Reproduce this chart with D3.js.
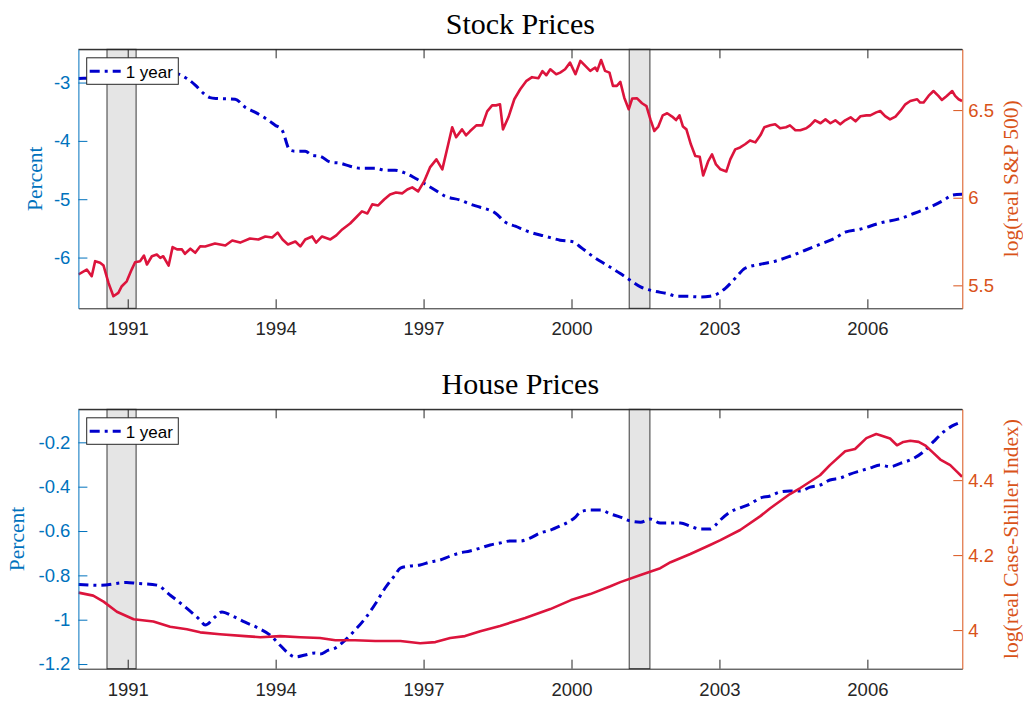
<!DOCTYPE html>
<html>
<head>
<meta charset="utf-8">
<script src="https://cdn.jsdelivr.net/npm/d3@7"></script>
<style>
  html, body { margin: 0; padding: 0; background: #fff; }
  svg { display: block; }
</style>
</head>
<body>
<svg id="chart" width="1023" height="703"></svg>
<script>
// ---------------- DATA ----------------
const xTickYears = [1991, 1994, 1997, 2000, 2003, 2006];
const xTickLabels = ["1991", "1994", "1997", "2000", "2003", "2006"];
const recessions = [[1990.58, 1991.17], [2001.17, 2001.59]];

// Stock panel
const stockLeftTicks = [-6, -5, -4, -3];
const stockLeftTickLabels = ["-6", "-5", "-4", "-3"];
const stockRightTicks = [5.5, 6, 6.5];
const stockRightTickLabels = ["5.5", "6", "6.5"];

const stockYearDates = [1990.00, 1990.50, 1991.00, 1991.50, 1991.96, 1992.20, 1992.37, 1992.54, 1992.67, 1992.81, 1993.18, 1993.38, 1993.58, 1993.79, 1993.99, 1994.13, 1994.29, 1994.40, 1994.60, 1994.74, 1994.90, 1995.11, 1995.31, 1995.51, 1995.71, 1996.02, 1996.22, 1996.42, 1996.63, 1996.83, 1997.04, 1997.24, 1997.44, 1997.75, 1997.95, 1998.15, 1998.46, 1998.66, 1998.86, 1999.16, 1999.47, 1999.77, 2000.04, 2000.18, 2000.45, 2000.72, 2000.99, 2001.19, 2001.40, 2001.66, 2001.94, 2002.14, 2002.34, 2002.61, 2002.81, 2002.98, 2003.12, 2003.32, 2003.52, 2003.83, 2004.13, 2004.43, 2004.74, 2005.04, 2005.34, 2005.55, 2005.85, 2006.26, 2006.67, 2006.94, 2007.28, 2007.55, 2007.72, 2007.92];
const stockYearValues = [-2.930, -2.920, -2.900, -2.870, -2.844, -2.930, -3.045, -3.187, -3.259, -3.273, -3.285, -3.422, -3.508, -3.611, -3.731, -3.816, -4.159, -4.177, -4.177, -4.245, -4.262, -4.365, -4.383, -4.434, -4.468, -4.468, -4.503, -4.503, -4.554, -4.640, -4.743, -4.846, -4.949, -5.017, -5.086, -5.137, -5.240, -5.395, -5.463, -5.566, -5.635, -5.703, -5.732, -5.818, -5.990, -6.132, -6.274, -6.389, -6.504, -6.573, -6.618, -6.664, -6.664, -6.676, -6.664, -6.612, -6.527, -6.355, -6.184, -6.115, -6.063, -5.978, -5.875, -5.772, -5.669, -5.566, -5.515, -5.407, -5.331, -5.245, -5.132, -5.017, -4.931, -4.914];

const spxDates = [1990.00, 1990.17, 1990.27, 1990.34, 1990.44, 1990.51, 1990.61, 1990.71, 1990.81, 1990.88, 1990.98, 1991.08, 1991.15, 1991.25, 1991.33, 1991.39, 1991.49, 1991.59, 1991.66, 1991.72, 1991.83, 1991.91, 1992.00, 1992.10, 1992.16, 1992.27, 1992.37, 1992.47, 1992.57, 1992.77, 1992.98, 1993.12, 1993.28, 1993.48, 1993.65, 1993.79, 1993.93, 1994.04, 1994.14, 1994.25, 1994.40, 1994.50, 1994.60, 1994.74, 1994.82, 1994.94, 1995.11, 1995.23, 1995.35, 1995.51, 1995.63, 1995.75, 1995.86, 1995.96, 1996.08, 1996.20, 1996.32, 1996.44, 1996.57, 1996.67, 1996.77, 1996.89, 1997.01, 1997.13, 1997.26, 1997.38, 1997.50, 1997.58, 1997.66, 1997.78, 1997.86, 1997.94, 1998.07, 1998.19, 1998.29, 1998.39, 1998.47, 1998.55, 1998.61, 1998.72, 1998.84, 1998.96, 1999.08, 1999.20, 1999.33, 1999.41, 1999.49, 1999.57, 1999.69, 1999.77, 1999.87, 1999.97, 2000.08, 2000.18, 2000.28, 2000.38, 2000.48, 2000.52, 2000.60, 2000.68, 2000.77, 2000.84, 2000.92, 2000.99, 2001.07, 2001.16, 2001.23, 2001.33, 2001.43, 2001.52, 2001.60, 2001.68, 2001.76, 2001.85, 2001.94, 2002.04, 2002.12, 2002.19, 2002.26, 2002.33, 2002.42, 2002.51, 2002.60, 2002.67, 2002.77, 2002.85, 2002.93, 2003.02, 2003.14, 2003.22, 2003.32, 2003.42, 2003.52, 2003.62, 2003.73, 2003.83, 2003.91, 2004.03, 2004.13, 2004.23, 2004.35, 2004.43, 2004.54, 2004.64, 2004.76, 2004.84, 2004.94, 2005.05, 2005.15, 2005.25, 2005.35, 2005.45, 2005.55, 2005.66, 2005.76, 2005.86, 2005.98, 2006.06, 2006.18, 2006.26, 2006.36, 2006.46, 2006.57, 2006.67, 2006.77, 2006.87, 2007.01, 2007.07, 2007.14, 2007.24, 2007.34, 2007.44, 2007.51, 2007.61, 2007.72, 2007.78, 2007.85, 2007.92];
const spxValues = [5.562, 5.590, 5.552, 5.638, 5.629, 5.613, 5.514, 5.438, 5.457, 5.495, 5.523, 5.590, 5.632, 5.638, 5.670, 5.619, 5.666, 5.676, 5.657, 5.666, 5.613, 5.718, 5.705, 5.705, 5.680, 5.709, 5.686, 5.723, 5.722, 5.739, 5.727, 5.756, 5.744, 5.767, 5.762, 5.779, 5.773, 5.801, 5.762, 5.733, 5.750, 5.722, 5.762, 5.779, 5.744, 5.779, 5.762, 5.785, 5.819, 5.853, 5.887, 5.922, 5.910, 5.962, 5.956, 5.990, 6.019, 6.030, 6.025, 6.047, 6.059, 6.036, 6.093, 6.173, 6.219, 6.162, 6.305, 6.402, 6.345, 6.390, 6.356, 6.379, 6.413, 6.413, 6.493, 6.527, 6.527, 6.533, 6.390, 6.459, 6.562, 6.619, 6.665, 6.688, 6.682, 6.722, 6.699, 6.733, 6.705, 6.714, 6.733, 6.771, 6.705, 6.781, 6.752, 6.724, 6.743, 6.724, 6.786, 6.724, 6.714, 6.638, 6.638, 6.661, 6.571, 6.505, 6.566, 6.567, 6.539, 6.523, 6.447, 6.381, 6.406, 6.470, 6.482, 6.463, 6.443, 6.470, 6.406, 6.390, 6.305, 6.238, 6.234, 6.127, 6.207, 6.247, 6.190, 6.162, 6.150, 6.219, 6.276, 6.287, 6.305, 6.327, 6.316, 6.356, 6.402, 6.413, 6.419, 6.396, 6.402, 6.413, 6.385, 6.385, 6.396, 6.413, 6.442, 6.425, 6.447, 6.425, 6.442, 6.419, 6.442, 6.459, 6.436, 6.465, 6.470, 6.470, 6.487, 6.495, 6.466, 6.447, 6.463, 6.495, 6.533, 6.552, 6.562, 6.543, 6.543, 6.581, 6.609, 6.581, 6.558, 6.581, 6.609, 6.581, 6.562, 6.552];

// House panel
const houseLeftTicks = [-1.2, -1, -0.8, -0.6, -0.4, -0.2];
const houseLeftTickLabels = ["-1.2", "-1", "-0.8", "-0.6", "-0.4", "-0.2"];
const houseRightTicks = [4, 4.2, 4.4];
const houseRightTickLabels = ["4", "4.2", "4.4"];

const houseYearDates = [1990.00, 1990.44, 1990.98, 1991.18, 1991.59, 1991.86, 1992.20, 1992.47, 1992.57, 1992.77, 1992.91, 1993.12, 1993.38, 1993.65, 1993.89, 1994.09, 1994.25, 1994.40, 1994.60, 1994.80, 1994.90, 1995.07, 1995.21, 1995.41, 1995.61, 1995.82, 1996.02, 1996.22, 1996.42, 1996.53, 1996.73, 1996.93, 1997.13, 1997.33, 1997.54, 1997.74, 1997.94, 1998.15, 1998.35, 1998.55, 1998.75, 1998.96, 1999.16, 1999.36, 1999.57, 1999.77, 1999.97, 2000.08, 2000.18, 2000.38, 2000.59, 2000.79, 2000.99, 2001.19, 2001.40, 2001.60, 2001.80, 2002.01, 2002.21, 2002.41, 2002.61, 2002.81, 2002.92, 2003.02, 2003.22, 2003.42, 2003.62, 2003.83, 2004.03, 2004.23, 2004.43, 2004.64, 2004.84, 2005.04, 2005.24, 2005.45, 2005.65, 2005.85, 2006.05, 2006.26, 2006.46, 2006.67, 2006.94, 2007.14, 2007.34, 2007.55, 2007.72, 2007.92];
const houseYearValues = [-0.841, -0.845, -0.832, -0.836, -0.844, -0.889, -0.949, -1.002, -1.024, -0.988, -0.965, -0.983, -1.011, -1.038, -1.070, -1.115, -1.150, -1.168, -1.159, -1.150, -1.155, -1.137, -1.128, -1.092, -1.047, -0.993, -0.929, -0.857, -0.799, -0.767, -0.758, -0.753, -0.740, -0.731, -0.713, -0.699, -0.690, -0.677, -0.663, -0.654, -0.645, -0.645, -0.632, -0.609, -0.596, -0.577, -0.555, -0.537, -0.514, -0.505, -0.505, -0.523, -0.537, -0.555, -0.560, -0.546, -0.564, -0.564, -0.564, -0.578, -0.591, -0.591, -0.573, -0.550, -0.514, -0.496, -0.478, -0.451, -0.442, -0.424, -0.420, -0.420, -0.402, -0.393, -0.370, -0.361, -0.343, -0.329, -0.316, -0.302, -0.310, -0.295, -0.272, -0.242, -0.197, -0.152, -0.126, -0.107];

const caseShillerDates = [1990.00, 1990.30, 1990.51, 1990.78, 1991.12, 1991.52, 1991.86, 1992.20, 1992.47, 1992.87, 1993.38, 1993.69, 1994.09, 1994.50, 1994.90, 1995.21, 1995.61, 1996.02, 1996.53, 1996.93, 1997.24, 1997.54, 1997.84, 1998.15, 1998.55, 1999.06, 1999.57, 1999.99, 2000.38, 2000.79, 2000.99, 2001.40, 2001.80, 2002.01, 2002.41, 2002.81, 2003.02, 2003.42, 2003.83, 2004.03, 2004.43, 2004.64, 2005.04, 2005.24, 2005.55, 2005.75, 2005.98, 2006.18, 2006.26, 2006.46, 2006.60, 2006.73, 2006.87, 2007.04, 2007.17, 2007.31, 2007.48, 2007.68, 2007.82, 2007.92];
const caseShillerValues = [4.100, 4.092, 4.076, 4.049, 4.029, 4.023, 4.009, 4.002, 3.994, 3.989, 3.984, 3.981, 3.984, 3.981, 3.979, 3.973, 3.973, 3.971, 3.971, 3.965, 3.968, 3.979, 3.984, 3.997, 4.011, 4.032, 4.056, 4.080, 4.096, 4.117, 4.128, 4.147, 4.165, 4.181, 4.203, 4.227, 4.240, 4.267, 4.304, 4.325, 4.363, 4.379, 4.413, 4.440, 4.477, 4.483, 4.512, 4.523, 4.520, 4.511, 4.493, 4.502, 4.505, 4.502, 4.493, 4.476, 4.455, 4.440, 4.422, 4.409];

// ---------------- DRAWING ----------------
const svg = d3.select("#chart");
const C_LEFT = "#0072BD", C_RIGHT = "#D95319", C_AX = "#262626";
const C_BLUE = "#0000CC", C_RED = "#DC143C";
const plotL = 78.4, plotR = 962.3;

const x = d3.scaleLinear().domain([1990, 2007.925]).range([plotL, plotR]);

function panel(cfg) {
  const g = svg.append("g");
  const top = cfg.top, bot = cfg.bottom;
  const yL = d3.scaleLinear().domain(cfg.leftDomain).range([bot, top]);
  const yR = d3.scaleLinear().domain(cfg.rightDomain).range([bot, top]);
  const clipId = "clip" + cfg.id;
  svg.append("defs").append("clipPath").attr("id", clipId)
    .append("rect").attr("x", plotL).attr("y", top).attr("width", plotR - plotL).attr("height", bot - top);

  // recession bars
  g.append("g").selectAll("rect").data(recessions).join("rect")
    .attr("x", d => x(d[0])).attr("y", top)
    .attr("width", d => x(d[1]) - x(d[0])).attr("height", bot - top)
    .attr("fill", "#e5e5e5").attr("stroke", "#3a3a3a").attr("stroke-width", 1);

  // lines
  const lg = g.append("g").attr("clip-path", `url(#${clipId})`);
  const redLine = d3.line().x((d, i) => x(cfg.rightDates[i])).y(d => yR(d)).curve(d3.curveLinear);
  const blueLine = d3.line().x((d, i) => x(cfg.leftDates[i])).y(d => yL(d)).curve(d3.curveMonotoneX);
  lg.append("path").datum(cfg.leftValues).attr("d", blueLine)
    .attr("fill", "none").attr("stroke", C_BLUE).attr("stroke-width", 3)
    .attr("stroke-dasharray", "10,5,3,5").attr("stroke-linejoin", "round");
  lg.append("path").datum(cfg.rightValues).attr("d", redLine)
    .attr("fill", "none").attr("stroke", C_RED).attr("stroke-width", 2.6)
    .attr("stroke-linejoin", "round");

  // box top / bottom
  g.append("line").attr("x1", plotL).attr("x2", plotR).attr("y1", top).attr("y2", top)
    .attr("stroke", C_AX).attr("stroke-width", 1);

  // x axis bottom
  const xb = d3.axisBottom(x).tickValues(xTickYears).tickFormat((d, i) => xTickLabels[i])
    .tickSizeInner(-9).tickSizeOuter(0).tickPadding(14);
  const xg = g.append("g").attr("transform", `translate(0,${bot})`).call(xb);
  xg.select(".domain").attr("stroke", C_AX);
  xg.selectAll(".tick line").attr("stroke", C_AX);
  xg.selectAll("text").attr("fill", C_AX).attr("font-family", "Liberation Sans, Arial, sans-serif").attr("font-size", 18.5);

  // x axis top ticks
  const xt = d3.axisTop(x).tickValues(xTickYears).tickFormat("").tickSizeInner(-9).tickSizeOuter(0);
  const xtg = g.append("g").attr("transform", `translate(0,${top})`).call(xt);
  xtg.select(".domain").attr("stroke", C_AX);
  xtg.selectAll(".tick line").attr("stroke", C_AX);

  // left axis
  const al = d3.axisLeft(yL).tickValues(cfg.leftTicks).tickFormat((d, i) => cfg.leftTickLabels[i])
    .tickSizeInner(-9).tickSizeOuter(0).tickPadding(8);
  const alg = g.append("g").attr("transform", `translate(${plotL},0)`).call(al);
  alg.select(".domain").attr("stroke", C_LEFT);
  alg.selectAll(".tick line").attr("stroke", C_LEFT);
  alg.selectAll("text").attr("fill", C_LEFT).attr("font-family", "Liberation Sans, Arial, sans-serif").attr("font-size", 18.5);

  // right axis
  const ar = d3.axisRight(yR).tickValues(cfg.rightTicks).tickFormat((d, i) => cfg.rightTickLabels[i])
    .tickSizeInner(-9).tickSizeOuter(0).tickPadding(6);
  const arg = g.append("g").attr("transform", `translate(${plotR},0)`).call(ar);
  arg.select(".domain").attr("stroke", C_RIGHT);
  arg.selectAll(".tick line").attr("stroke", C_RIGHT);
  arg.selectAll("text").attr("fill", C_RIGHT).attr("font-family", "Liberation Sans, Arial, sans-serif").attr("font-size", 18.5);

  // title
  svg.append("text").attr("x", (plotL + plotR) / 2).attr("y", cfg.titleY)
    .attr("text-anchor", "middle").attr("font-family", "Liberation Serif, Times New Roman, serif")
    .attr("font-size", 30).attr("fill", "#000").text(cfg.title);

  // y labels
  const mid = (top + bot) / 2;
  svg.append("text").attr("transform", `translate(${cfg.leftLabelX},${mid}) rotate(-90)`)
    .attr("text-anchor", "middle").attr("font-family", "Liberation Serif, Times New Roman, serif")
    .attr("font-size", 21.5).attr("fill", C_LEFT).text("Percent");
  svg.append("text").attr("transform", `translate(${cfg.rightLabelX},${mid}) rotate(-90)`)
    .attr("text-anchor", "middle").attr("font-family", "Liberation Serif, Times New Roman, serif")
    .attr("font-size", 21.5).attr("fill", C_RIGHT).text(cfg.rightLabel);

  // legend
  const lgX = 86.7, lgY = top + 8.5, lgW = 91.6, lgH = 26.5;
  const leg = svg.append("g");
  leg.append("rect").attr("x", lgX).attr("y", lgY).attr("width", lgW).attr("height", lgH)
    .attr("fill", "#fff").attr("stroke", C_AX).attr("stroke-width", 1);
  leg.append("line").attr("x1", lgX + 3).attr("x2", lgX + 34).attr("y1", lgY + 13.5).attr("y2", lgY + 13.5)
    .attr("stroke", C_BLUE).attr("stroke-width", 3).attr("stroke-dasharray", "10,5,3,5");
  leg.append("text").attr("x", lgX + 39).attr("y", lgY + 19.8)
    .attr("font-family", "Liberation Sans, Arial, sans-serif").attr("font-size", 17)
    .attr("fill", "#000").text("1 year");
}

panel({
  id: "stock", top: 49.3, bottom: 308.3,
  leftDomain: [-6.87, -2.43], rightDomain: [5.369, 6.847],
  leftTicks: stockLeftTicks, leftTickLabels: stockLeftTickLabels,
  rightTicks: stockRightTicks, rightTickLabels: stockRightTickLabels,
  leftDates: stockYearDates, leftValues: stockYearValues,
  rightDates: spxDates, rightValues: spxValues,
  title: "Stock Prices", titleY: 34,
  rightLabel: "log(real S&P 500)", leftLabelX: 42, rightLabelX: 1018
});

panel({
  id: "house", top: 409.3, bottom: 668.7,
  leftDomain: [-1.221, -0.051], rightDomain: [3.897, 4.589],
  leftTicks: houseLeftTicks, leftTickLabels: houseLeftTickLabels,
  rightTicks: houseRightTicks, rightTickLabels: houseRightTickLabels,
  leftDates: houseYearDates, leftValues: houseYearValues,
  rightDates: caseShillerDates, rightValues: caseShillerValues,
  title: "House Prices", titleY: 394,
  rightLabel: "log(real Case-Shiller Index)", leftLabelX: 24, rightLabelX: 1018
});
</script>
</body>
</html>
